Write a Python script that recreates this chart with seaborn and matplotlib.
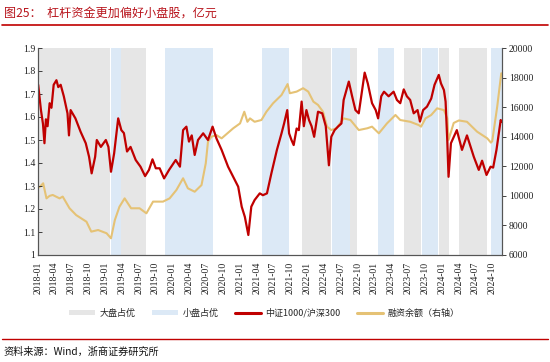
import pandas as pd
import matplotlib
matplotlib.use("Agg")
import matplotlib.pyplot as plt
import matplotlib.dates as mdates
from matplotlib.patches import Patch
from matplotlib.lines import Line2D
import seaborn as sns

# 中证1000/沪深300 (left axis)
ratio_dates = [
    "2018-01-02", "2018-01-17", "2018-01-28", "2018-02-05", "2018-02-13", "2018-02-22",
    "2018-03-05", "2018-03-15", "2018-03-27", "2018-04-11", "2018-04-21", "2018-05-04",
    "2018-05-21", "2018-06-10", "2018-06-18", "2018-06-27", "2018-07-23", "2018-08-20",
    "2018-09-17", "2018-10-05", "2018-10-19", "2018-11-07", "2018-11-16", "2018-12-08",
    "2019-01-04", "2019-01-18", "2019-02-01", "2019-02-18", "2019-03-12", "2019-03-29",
    "2019-04-12", "2019-04-29", "2019-05-18", "2019-06-15", "2019-07-11", "2019-08-05",
    "2019-08-26", "2019-09-14", "2019-10-02", "2019-10-23", "2019-11-16", "2019-12-13",
    "2020-01-18", "2020-02-10", "2020-02-27", "2020-03-16", "2020-03-30", "2020-04-14",
    "2020-04-30", "2020-05-18", "2020-06-15", "2020-07-11", "2020-08-05", "2020-08-26",
    "2020-09-23", "2020-10-28", "2020-11-25", "2020-12-22", "2021-01-10", "2021-01-27",
    "2021-02-15", "2021-03-03", "2021-03-21", "2021-04-18", "2021-05-05", "2021-05-27",
    "2021-06-20", "2021-07-20", "2021-08-14", "2021-08-28", "2021-09-14", "2021-09-24",
    "2021-10-07", "2021-10-19", "2021-11-04", "2021-11-16", "2021-12-01", "2021-12-13",
    "2021-12-27", "2022-01-10", "2022-01-24", "2022-02-07", "2022-02-28", "2022-03-23",
    "2022-04-11", "2022-04-28", "2022-05-11", "2022-05-29", "2022-06-16", "2022-07-05",
    "2022-07-17", "2022-08-14", "2022-09-01", "2022-09-19", "2022-10-07", "2022-10-25",
    "2022-11-08", "2022-11-25", "2022-12-18", "2023-01-07", "2023-01-20", "2023-02-06",
    "2023-02-21", "2023-03-18", "2023-04-14", "2023-05-02", "2023-05-20", "2023-06-08",
    "2023-06-25", "2023-07-13", "2023-08-01", "2023-08-22", "2023-09-04", "2023-09-21",
    "2023-10-12", "2023-11-04", "2023-11-22", "2023-12-15", "2023-12-27", "2024-01-12",
    "2024-01-21", "2024-01-30", "2024-02-06", "2024-02-19", "2024-03-22", "2024-04-19",
    "2024-05-16", "2024-06-22", "2024-07-19", "2024-08-06", "2024-08-30", "2024-09-21",
    "2024-10-05", "2024-10-23", "2024-11-15", "2024-11-19",
]
ratio_values = [
    1.74, 1.63, 1.57, 1.486, 1.59, 1.56,
    1.66, 1.64, 1.74, 1.76, 1.73, 1.74,
    1.69, 1.616, 1.52, 1.63, 1.594, 1.536,
    1.486, 1.427, 1.355, 1.427, 1.50, 1.47,
    1.50, 1.47, 1.362, 1.442, 1.594, 1.543,
    1.53, 1.45, 1.47, 1.413, 1.384, 1.343,
    1.37, 1.416, 1.377, 1.377, 1.333, 1.37,
    1.413, 1.384, 1.543, 1.558, 1.493, 1.52,
    1.435, 1.50, 1.529, 1.50, 1.558, 1.507,
    1.457, 1.384, 1.34, 1.297, 1.21, 1.166,
    1.087, 1.21, 1.239, 1.268, 1.26, 1.268,
    1.355, 1.457, 1.529, 1.572, 1.63, 1.529,
    1.50, 1.478, 1.55, 1.543, 1.667, 1.56,
    1.63, 1.587, 1.56, 1.514, 1.623, 1.616,
    1.56, 1.39, 1.514, 1.543, 1.558, 1.572,
    1.674, 1.754, 1.69, 1.63, 1.616, 1.717,
    1.793, 1.746, 1.66, 1.63, 1.594, 1.69,
    1.71, 1.69, 1.71, 1.674, 1.66, 1.72,
    1.69, 1.674, 1.616, 1.63, 1.58, 1.63,
    1.645, 1.68, 1.74, 1.783, 1.746, 1.717,
    1.667, 1.50, 1.34, 1.486, 1.543, 1.457,
    1.52, 1.427, 1.37, 1.41, 1.348, 1.384,
    1.38, 1.457, 1.587, 1.58,
]

# 融资余额 (right axis, 亿元)
margin_dates = [
    "2018-01-02", "2018-01-12", "2018-01-29", "2018-02-16", "2018-03-05", "2018-03-22",
    "2018-04-28", "2018-05-15", "2018-06-21", "2018-07-27", "2018-09-21", "2018-10-17",
    "2018-11-23", "2019-01-08", "2019-02-01", "2019-02-22", "2019-03-19", "2019-04-16",
    "2019-05-21", "2019-07-06", "2019-08-12", "2019-09-17", "2019-11-10", "2019-12-16",
    "2020-01-22", "2020-02-27", "2020-03-24", "2020-04-30", "2020-06-06", "2020-06-29",
    "2020-07-11", "2020-07-30", "2020-08-26", "2020-09-23", "2020-11-25", "2021-01-01",
    "2021-01-24", "2021-02-10", "2021-02-24", "2021-03-21", "2021-04-27", "2021-05-24",
    "2021-06-29", "2021-08-14", "2021-09-16", "2021-09-28", "2021-11-04", "2021-12-09",
    "2022-01-06", "2022-02-03", "2022-02-28", "2022-03-27", "2022-04-18", "2022-05-11",
    "2022-06-08", "2022-07-17", "2022-08-23", "2022-10-07", "2022-11-22", "2022-12-18",
    "2023-01-24", "2023-03-09", "2023-04-24", "2023-05-20", "2023-07-13", "2023-08-28",
    "2023-09-10", "2023-10-04", "2023-11-04", "2023-12-06", "2024-01-12", "2024-01-30",
    "2024-02-06", "2024-03-05", "2024-04-02", "2024-05-16", "2024-07-10", "2024-09-03",
    "2024-09-23", "2024-09-30", "2024-10-27", "2024-11-18",
]
margin_values = [
    10550, 10620, 10850, 9830, 10000, 10060,
    9830, 9950, 9160, 8700, 8250, 7580,
    7690, 7470, 7130, 8370, 9270, 9830,
    9160, 9160, 8820, 9610, 9610, 9830,
    10400, 11190, 10510, 10280, 10730, 12200,
    13660, 14000, 14110, 13890, 14570, 14900,
    15690, 15010, 15240, 15010, 15130, 15690,
    16260, 16820, 17560, 16940, 17050, 17280,
    17050, 16370, 16150, 15690, 14680, 14450,
    14570, 15240, 15130, 14450, 14570, 14680,
    14230, 14900, 15470, 15130, 15010, 14790,
    14680, 15240, 15470, 15920, 15800, 15240,
    13780, 14930, 15100, 15010, 14340, 13890,
    13600, 13700, 16030, 18290,
]

# 大盘占优 / 小盘占优 periods
large_cap_periods = [
    ("2018-01-01", "2019-01-29"), ("2019-03-26", "2019-08-12"),
    ("2021-12-03", "2022-05-12"), ("2022-08-20", "2022-09-30"),
    ("2023-06-09", "2023-09-08"), ("2023-12-16", "2024-02-09"),
    ("2024-04-02", "2024-08-30"),
]
small_cap_periods = [
    ("2019-01-31", "2019-03-25"), ("2019-11-20", "2020-08-10"),
    ("2021-04-29", "2021-09-24"), ("2022-05-14", "2022-08-19"),
    ("2023-01-17", "2023-04-16"), ("2023-09-15", "2023-12-11"),
    ("2024-09-26", "2024-11-22"),
]

RED = "#c00000"
GOLD = "#e5c275"
GRAY_BG = "#e6e6e6"
BLUE_BG = "#dce9f6"

sns.set_style("white")
plt.rcParams["font.family"] = ["Liberation Serif", "Noto Sans CJK SC", "DejaVu Sans"]

df_ratio = pd.DataFrame({"date": pd.to_datetime(ratio_dates), "ratio": ratio_values})
df_margin = pd.DataFrame({"date": pd.to_datetime(margin_dates), "margin": margin_values})

fig = plt.figure(figsize=(5.5, 3.62), dpi=100)
ax = fig.add_axes([38 / 550, 1 - 255 / 362, 464 / 550, 207 / 362])
ax2 = ax.twinx()

# back axes (ax2) carries the shading and the gold line, front axes the red line
ax.set_zorder(ax2.get_zorder() + 1)
ax.patch.set_visible(False)
ax2.patch.set_facecolor("white")

for s, e in large_cap_periods:
    ax2.axvspan(pd.Timestamp(s), pd.Timestamp(e), color=GRAY_BG, lw=0, zorder=0)
for s, e in small_cap_periods:
    ax2.axvspan(pd.Timestamp(s), pd.Timestamp(e), color=BLUE_BG, lw=0, zorder=0)

sns.lineplot(data=df_margin, x="date", y="margin", ax=ax2, color=GOLD, linewidth=1.5)
sns.lineplot(data=df_ratio, x="date", y="ratio", ax=ax, color=RED, linewidth=1.6)

ax.set_xlim(pd.Timestamp("2018-01-01"), pd.Timestamp("2024-11-22"))
ax.set_ylim(1.0, 1.9)
ax2.set_ylim(6000, 20000)
ax.set_yticks([1.0, 1.1, 1.2, 1.3, 1.4, 1.5, 1.6, 1.7, 1.8, 1.9])
ax.set_yticklabels(["1", "1.1", "1.2", "1.3", "1.4", "1.5", "1.6", "1.7", "1.8", "1.9"])
ax2.set_yticks(range(6000, 20001, 2000))

ax.xaxis.set_major_locator(mdates.MonthLocator(bymonth=[1, 4, 7, 10]))
ax.xaxis.set_major_formatter(mdates.DateFormatter("%Y-%m"))
plt.setp(ax.get_xticklabels(), rotation=90)

ax.set_xlabel("")
ax.set_ylabel("")
ax2.set_ylabel("")

for a in (ax, ax2):
    a.tick_params(labelsize=7, colors="#222222", length=3, width=0.6, pad=2)
    for side in a.spines:
        a.spines[side].set_color("#555555")
        a.spines[side].set_linewidth(0.8)
    a.spines["top"].set_visible(False)
ax.tick_params(axis="x", labelsize=7, direction="out")
ax.tick_params(axis="y", direction="in")

cjk = ["Noto Sans CJK SC", "DejaVu Sans"]
fig.text(4 / 550, 1 - 13 / 362, "图25：  杠杆资金更加偏好小盘股，亿元",
         color="#b8141c", fontsize=8.7, family=cjk, va="center", ha="left")
fig.add_artist(Line2D([0.003, 0.997], [1 - 24.5 / 362] * 2, color="#c00000", lw=1.2))
fig.add_artist(Line2D([0.003, 0.997], [1 - 338.5 / 362] * 2, color="#c00000", lw=1.0))
fig.text(3 / 550, 1 - 352 / 362, "资料来源：Wind，浙商证券研究所",
         color="#111111", fontsize=7.3, family=cjk, va="center", ha="left")

handles = [
    Patch(facecolor=GRAY_BG, edgecolor="none"),
    Patch(facecolor=BLUE_BG, edgecolor="none"),
    Line2D([], [], color=RED, lw=2.2),
    Line2D([], [], color=GOLD, lw=2.2),
]
labels = ["大盘占优", "小盘占优", "中证1000/沪深300", "融资余额（右轴）"]
fig.legend(handles, labels, loc="center", ncol=4, frameon=False,
           bbox_to_anchor=(264 / 550, 1 - 313 / 362),
           handlelength=2.9, handleheight=0.6, columnspacing=1.8, handletextpad=0.5,
           prop={"family": cjk, "size": 6.5})

fig.savefig("out.png", dpi=100)
